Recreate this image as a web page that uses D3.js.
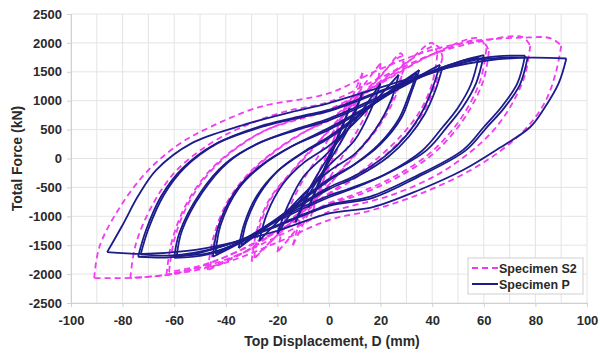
<!DOCTYPE html>
<html>
<head>
<meta charset="utf-8">
<script src="https://cdn.jsdelivr.net/npm/d3@7"></script>
<style>
  body { margin: 0; background: #fff; }
  text { font-family: "Liberation Sans", Arial, sans-serif; }
</style>
</head>
<body>
<svg id="chart" width="600" height="354"></svg>
<script>
// tick labels
const xTicks = [-100, -80, -60, -40, -20, 0, 20, 40, 60, 80, 100];
const yTicks = [-2500, -2000, -1500, -1000, -500, 0, 500, 1000, 1500, 2000, 2500];

// Specimen P cycles: [displacement mm, force kN], from negative peak over positive peak back
const p8 = [[-8,-850],[-3,-300],[3,350],[8,870],[3,300],[-3,-350],[-8,-850]];
const p13 = [[-13,-1100],[-8,-560],[0,50],[8,640],[13,1150],[8,560],[0,-50],[-8,-640],[-13,-1100]];
const p20 = [[-20,-1300],[-16,-820],[-10,-320],[0,120],[10,650],[20,1300],[16,820],[10,320],[0,-120],[-10,-650],[-20,-1300]];
const p27 = [[-27,-1420],[-24,-950],[-18,-450],[-10,-80],[0,220],[10,620],[19,1050],[27,1450],[24,1000],[18,500],[10,80],[0,-220],[-10,-620],[-19,-1050],[-27,-1420]];
const p35 = [[-35,-1550],[-33,-1150],[-28,-650],[-20,-220],[-10,100],[0,350],[12,750],[24,1180],[35,1530],[32,1150],[28,700],[20,250],[10,-100],[0,-350],[-12,-760],[-24,-1180],[-35,-1550]];
const p35b = [[-34,-1500],[-32,-1100],[-27,-620],[-19,-180],[-9,140],[0,380],[12,770],[24,1160],[34,1480],[31,1100],[27,680],[19,230],[9,-130],[0,-380],[-12,-780],[-24,-1160],[-34,-1500]];
const p45 = [[-45,-1700],[-43,-1190],[-36,-545],[-27,-140],[-15,200],[0,500],[15,880],[30,1300],[43,1620],[40,1200],[36,800],[30,400],[22,50],[10,-300],[0,-500],[-15,-900],[-30,-1350],[-45,-1700]];
const p45b = [[-44,-1650],[-42,-1150],[-35,-520],[-26,-120],[-14,220],[0,530],[15,900],[30,1310],[44,1580],[41,1150],[37,760],[31,380],[23,30],[11,-310],[0,-530],[-15,-920],[-30,-1330],[-44,-1650]];
const p60 = [[-60,-1720],[-58,-1290],[-50,-600],[-40,-80],[-28,250],[-12,500],[0,660],[20,1050],[40,1500],[52,1700],[60,1790],[57,1300],[52,900],[46,560],[38,150],[23,-250],[8,-520],[0,-640],[-20,-1050],[-35,-1450],[-47,-1660],[-60,-1720]];
const p60b = [[-59,-1680],[-57,-1250],[-49,-580],[-39,-60],[-27,270],[-12,520],[0,690],[20,1080],[40,1510],[51,1680],[58,1750],[55,1280],[50,880],[44,540],[36,130],[22,-270],[8,-540],[0,-670],[-20,-1080],[-35,-1460],[-47,-1640],[-59,-1680]];
const p76 = [[-74,-1700],[-71,-1250],[-65,-650],[-57,-180],[-44,250],[-25,560],[-10,720],[0,820],[20,1150],[40,1480],[55,1700],[66,1770],[76,1780],[73,1300],[67,900],[60,545],[52,150],[33,-320],[16,-660],[0,-800],[-20,-1150],[-40,-1500],[-52,-1650],[-62,-1710],[-74,-1700]];
const p76b = [[-73,-1660],[-70,-1220],[-64,-630],[-56,-160],[-43,270],[-25,580],[-10,740],[0,840],[20,1170],[40,1490],[55,1690],[66,1740],[77,1750],[74,1280],[68,880],[61,530],[53,140],[34,-330],[17,-680],[0,-820],[-20,-1170],[-40,-1500],[-52,-1630],[-62,-1680],[-73,-1660]];
const p92 = [[-86,-1620],[-80,-1150],[-74,-650],[-67,-200],[-53,270],[-34,570],[-15,800],[0,960],[25,1300],[45,1560],[62,1700],[78,1745],[92,1730],[89,1300],[83,840],[78,545],[65,150],[52,-200],[35,-545],[17,-840],[0,-950],[-20,-1250],[-40,-1480],[-55,-1600],[-72,-1650],[-86,-1620]];

// Specimen S2 cycles
const s7 = [[-7,-1000],[-3,-400],[2,350],[7,1000],[3,400],[-2,-350],[-7,-1000]];
const s13 = [[-14,-1500],[-9,-750],[0,150],[7,850],[13,1480],[9,750],[0,-150],[-7,-850],[-14,-1500]];
const s20 = [[-20,-1620],[-17,-1050],[-11,-450],[-4,50],[0,350],[8,900],[14,1300],[20,1650],[18,1150],[13,650],[6,100],[0,-350],[-8,-900],[-14,-1300],[-20,-1620]];
const s28 = [[-30,-1780],[-28,-1250],[-23,-700],[-15,-250],[-6,200],[0,480],[10,950],[20,1420],[28,1820],[29,1600],[26,1100],[20,600],[12,150],[5,-200],[0,-450],[-10,-900],[-20,-1330],[-30,-1780]];
const s28b = [[-29,-1720],[-27,-1200],[-22,-660],[-14,-220],[-5,230],[0,500],[10,970],[20,1440],[28,1760],[29,1550],[25,1060],[19,570],[11,120],[4,-230],[0,-470],[-10,-920],[-20,-1320],[-29,-1720]];
const s40 = [[-47,-1930],[-45,-1400],[-40,-800],[-32,-300],[-22,100],[-10,450],[0,660],[15,1150],[30,1650],[40,2000],[42,1800],[40,1300],[35,800],[27,350],[16,-100],[5,-450],[0,-600],[-15,-1050],[-30,-1550],[-47,-1930]];
const s40b = [[-46,-1880],[-44,-1360],[-39,-780],[-31,-280],[-21,120],[-9,470],[0,680],[15,1170],[30,1660],[42,1950],[44,1750],[41,1250],[36,760],[28,320],[17,-120],[6,-460],[0,-620],[-15,-1070],[-30,-1550],[-46,-1880]];
const s58 = [[-63,-2010],[-61,-1450],[-56,-850],[-48,-300],[-38,120],[-25,480],[-10,700],[0,830],[20,1300],[40,1800],[58,2080],[61,1900],[59,1400],[54,900],[47,450],[38,50],[25,-320],[10,-620],[0,-770],[-20,-1250],[-40,-1700],[-52,-1900],[-63,-2010]];
const s58b = [[-62,-1960],[-60,-1410],[-55,-820],[-47,-280],[-37,140],[-24,500],[-10,720],[0,850],[20,1320],[40,1800],[59,2040],[62,1860],[60,1370],[55,880],[48,430],[39,30],[26,-340],[11,-640],[0,-790],[-20,-1270],[-40,-1700],[-52,-1880],[-62,-1960]];
const s75 = [[-77,-2070],[-75,-1500],[-69,-850],[-60,-250],[-48,200],[-35,520],[-18,800],[0,980],[20,1400],[40,1800],[58,2020],[75,2100],[78,1950],[76,1450],[71,950],[64,500],[55,120],[42,-280],[25,-620],[8,-830],[0,-920],[-20,-1350],[-40,-1750],[-60,-1990],[-77,-2070]];
const s86 = [[-91,-2070],[-89,-1530],[-81,-840],[-70,-200],[-58,250],[-46,545],[-27,890],[0,1130],[20,1550],[40,1880],[60,2050],[75,2090],[86,2080],[90,1950],[88,1500],[84,1000],[77,550],[67,150],[55,-200],[36,-600],[17,-890],[0,-1065],[-20,-1450],[-40,-1800],[-60,-2000],[-77,-2065],[-91,-2070]];

const specimenP = [p8, p13, p20, p27, p35, p35b, p45, p45b, p60, p60b, p76, p76b, p92];
const specimenS2 = [s7, s13, s20, s28, s28b, s40, s40b, s58, s58b, s75, s86];

const colorS2 = "#f03cf0";
const colorP = "#1c1c8c";
const textColor = "#2a2a2a";

const svg = d3.select("#chart");
const margin = {left: 71, right: 13, top: 14, bottom: 51};
const width = 600, height = 354;

const x = d3.scaleLinear().domain([-100, 100]).range([margin.left, width - margin.right]);
const y = d3.scaleLinear().domain([-2500, 2500]).range([height - margin.bottom, margin.top]);

// grid
svg.append("g")
    .selectAll("line")
    .data(x.ticks(20))
    .enter().append("line")
    .attr("x1", d => x(d)).attr("x2", d => x(d))
    .attr("y1", y(2500)).attr("y2", y(-2500))
    .attr("stroke", "#e4e4e4").attr("stroke-width", 1);

svg.append("g")
    .selectAll("line")
    .data(yTicks)
    .enter().append("line")
    .attr("x1", x(-100)).attr("x2", x(100))
    .attr("y1", d => y(d)).attr("y2", d => y(d))
    .attr("stroke", "#e4e4e4").attr("stroke-width", 1);

// axes
const xAxis = svg.append("g")
    .attr("transform", "translate(0," + y(-2500) + ")")
    .call(d3.axisBottom(x).tickValues(xTicks).tickFormat(d => String(d)).tickSize(4).tickPadding(9));
const yAxis = svg.append("g")
    .attr("transform", "translate(" + x(-100) + ",0)")
    .call(d3.axisLeft(y).tickValues(yTicks).tickFormat(d => String(d)).tickSize(4).tickPadding(5));

[xAxis, yAxis].forEach(a => {
    a.select(".domain").attr("stroke", "#d0d0d0");
    a.selectAll(".tick line").attr("stroke", "#d0d0d0");
    a.selectAll(".tick text")
        .attr("fill", textColor)
        .style("font-size", "13px")
        .style("font-weight", "bold");
});

// loops: each cycle is drawn as two branches meeting at its peaks
const line = d3.line()
    .x(d => x(d[0]))
    .y(d => y(d[1]))
    .curve(d3.curveCatmullRom.alpha(0.5));

function drawLoops(loops, color, dash) {
    const g = svg.append("g");
    loops.forEach(loop => {
        const k = d3.maxIndex(loop, d => d[0]);
        [loop.slice(0, k + 1), loop.slice(k)].forEach(seg => {
            g.append("path")
                .attr("d", line(seg))
                .attr("fill", "none")
                .attr("stroke", color)
                .attr("stroke-width", 1.8)
                .attr("stroke-dasharray", dash)
                .attr("stroke-linejoin", "round");
        });
    });
}

drawLoops(specimenS2, colorS2, "6,4");
drawLoops(specimenP, colorP, null);

// titles
svg.append("text")
    .attr("x", 332).attr("y", 346)
    .attr("text-anchor", "middle")
    .attr("fill", textColor)
    .style("font-size", "14px").style("font-weight", "bold")
    .text("Top Displacement, D (mm)");

svg.append("text")
    .attr("transform", "translate(22," + y(0) + ") rotate(-90)")
    .attr("text-anchor", "middle")
    .attr("fill", textColor)
    .style("font-size", "14px").style("font-weight", "bold")
    .text("Total Force (kN)");

// legend
const legend = svg.append("g").attr("transform", "translate(468,258)");
legend.append("rect")
    .attr("width", 115).attr("height", 36)
    .attr("fill", "#fff").attr("stroke", "#cfcfcf");
const items = [{name: "Specimen S2", color: colorS2, dash: "6,4"}, {name: "Specimen P", color: colorP, dash: null}];
items.forEach((it, i) => {
    const yy = 10 + i * 16;
    legend.append("line")
        .attr("x1", 4).attr("x2", 30).attr("y1", yy).attr("y2", yy)
        .attr("stroke", it.color).attr("stroke-width", 2)
        .attr("stroke-dasharray", it.dash);
    legend.append("text")
        .attr("x", 31).attr("y", yy + 4.5)
        .attr("fill", textColor)
        .style("font-size", "12.5px").style("font-weight", "bold")
        .text(it.name);
});
</script>
</body>
</html>
